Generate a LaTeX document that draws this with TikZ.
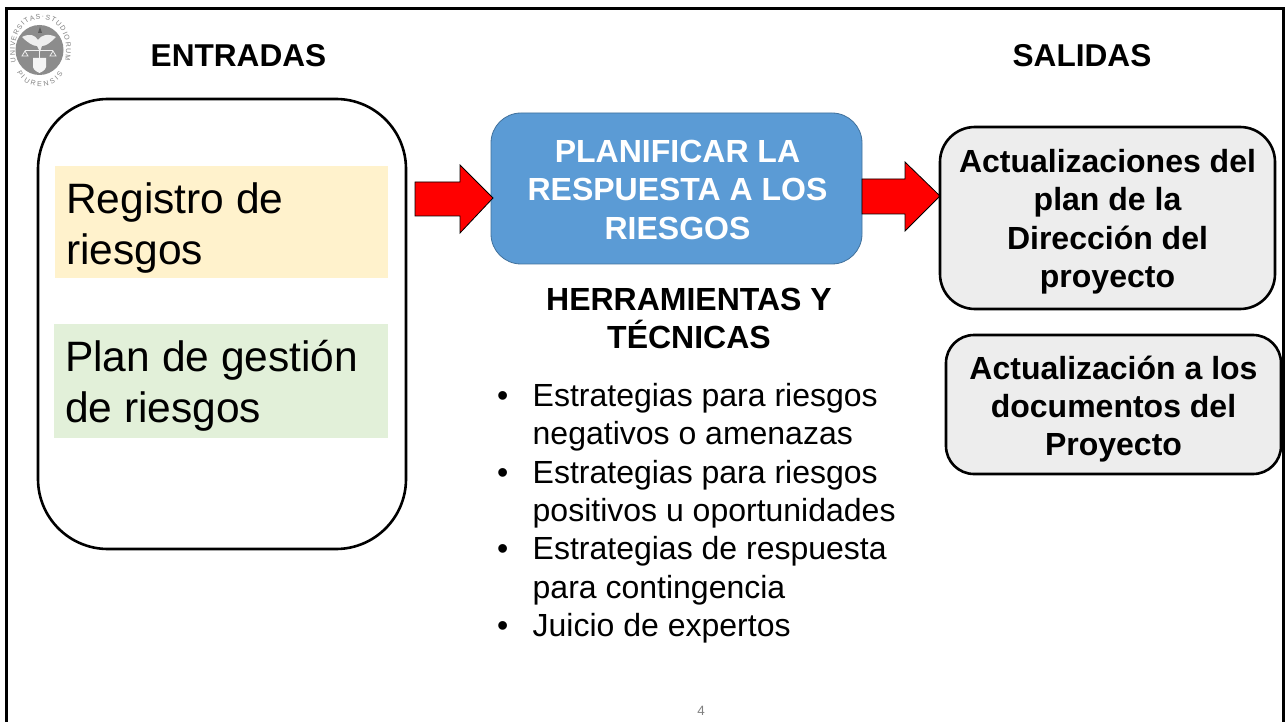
\documentclass[tikz,border=0pt]{standalone}
\usepackage{fontspec}
\setmainfont{Liberation Sans}
\usetikzlibrary{calc,decorations.text,positioning}
\definecolor{bluebox}{HTML}{5B9BD5}
\definecolor{blueedge}{HTML}{41719C}
\definecolor{graybox}{HTML}{EDEDED}
\definecolor{yellowbox}{HTML}{FFF2CC}
\definecolor{greenbox}{HTML}{E2F0D9}
\definecolor{seal}{HTML}{8C8C8C}
\definecolor{sealtext}{HTML}{808080}
\newcommand{\bigf}{\fontsize{42.5}{50.6}\selectfont}
\newcommand{\midf}{\fontsize{32}{38.4}\selectfont}
\newcommand{\titf}{\fontsize{31.6}{38.4}\selectfont}
\newcommand{\bul}{\makebox[35.5pt][l]{•}}
\newcommand{\ind}{\hspace*{35.5pt}}
\tikzset{
  x=1pt,y=-1pt,
  heading/.style={font=\midf\bfseries,align=center,inner sep=0pt},
  title/.style={font=\titf\bfseries,align=center,inner sep=0pt},
  outbox/.style={draw=black,line width=2.6pt,fill=graybox},
  bloque/.style={fill=red,draw=black,line width=0.8pt,line join=miter},
}
\begin{document}
\begin{tikzpicture}
\useasboundingbox (0,0) rectangle (1288,722);
\fill[white] (0,0) rectangle (1288,722);
% frame
\draw[black,line width=3pt] (6.5,730) -- (6.5,9) -- (1283.5,9) -- (1283.5,730);
% seal
\fill[seal] (39.5,50) ellipse [x radius=24,y radius=25];
\path[postaction={decorate,decoration={text along path,text align=fit to path,
   text={|\fontsize{7}{8}\selectfont\color{sealtext}|UNIVERSITAS·STUDIORUM}}}]
  (16,62) .. controls (11,36) and (23,19) .. (41,19) .. controls (58,19) and (70,36) .. (65,60);
\path[postaction={decorate,decoration={text along path,text align=fit to path,
   text={|\fontsize{7}{8}\selectfont\color{sealtext}|PIURENSIS}}}]
  (17,72) .. controls (25,91) and (54,91) .. (63,74);
\fill[white!85!seal] (22,37) .. controls (30,33) and (35,35) .. (38,40) .. controls (41,35) and (48,33) .. (56,37)
   .. controls (50,43) and (46,46) .. (42,46) -- (40,52) -- (37,46) .. controls (33,46) and (28,43) .. (22,37) -- cycle;
\fill[seal!65!black] (40,27) -- (38,33) -- (42,33) -- cycle;
\draw[white!85!seal,line width=1pt] (25,51) -- (53,51) (39,48) -- (39,60);
\draw[white!85!seal,line width=.8pt] (25,51) -- (22,56) -- (28,56) -- cycle (53,51) -- (50,56) -- (56,56) -- cycle;
\fill[white!90!seal] (33,58) -- (46,58) -- (46,67) .. controls (45,71) and (41,72) .. (39.5,73) .. controls (38,72) and (34,71) .. (33,67) -- cycle;
% headings
\node[title] (ent) at (238.5,56) {ENTRADAS};
\node[title] (sal) at (1082,56) {SALIDAS};
% input box
\draw[black,line width=2.6pt,fill=white,rounded corners=70pt] (38,99) rectangle (406,549);
\node[fill=yellowbox,minimum width=333pt,minimum height=112pt,inner sep=0pt] (reg) at (221.5,222) {};
\node[font=\bigf,align=left,inner sep=0pt,anchor=west] (regt) at (66,228) {Registro de\\riesgos};
\node[fill=greenbox,minimum width=334pt,minimum height=114pt,inner sep=0pt] (plan) at (221,381) {};
\node[font=\bigf,align=left,inner sep=0pt,anchor=west] (plant) at (65,386) {Plan de gestión\\de riesgos};
% process
\node[draw=blueedge,line width=.8pt,fill=bluebox,rounded corners=30pt,minimum width=371pt,minimum height=151pt,inner sep=0pt] (proc) at (676.5,188.5) {};
\node[font=\midf\bfseries,text=white,align=center,inner sep=0pt] (proct) at (677.5,189.7) {PLANIFICAR LA\\RESPUESTA A LOS\\RIESGOS};
% arrows
\coordinate (a1) at (493,198);
\draw[bloque] (415,182) -- (460,182) -- (460,165) -- (a1) -- (460,233) -- (460,216) -- (415,216) -- cycle;
\coordinate (a2) at (940,196);
\draw[bloque] (862,179) -- (905,179) -- (905,162) -- (a2) -- (905,231) -- (905,214) -- (862,214) -- cycle;
% tools
\node[heading] (tools) at (689,318.7) {HERRAMIENTAS Y\\TÉCNICAS};
\node[font=\midf,align=left,inner sep=0pt,anchor=north west] (list) at (497,383) {%
\bul Estrategias para riesgos\\
\ind negativos o amenazas\\
\bul Estrategias para riesgos\\
\ind positivos u oportunidades\\
\bul Estrategias de respuesta\\
\ind para contingencia\\
\bul Juicio de expertos};
% outputs
\draw[outbox,rounded corners=35pt] (940,127) rectangle (1275,309);
\node[heading] (o1) at (1107.5,221.7) {Actualizaciones del\\plan de la\\Dirección del\\proyecto};
\draw[outbox,rounded corners=28pt] (946,335) rectangle (1281,474);
\node[heading] (o2) at (1113.5,409) {Actualización a los\\documentos del\\Proyecto};
% page number
\node[font=\fontsize{13.5}{15}\selectfont,text=gray,inner sep=0pt] (pg) at (701,710.5) {4};
\end{tikzpicture}
\end{document}
